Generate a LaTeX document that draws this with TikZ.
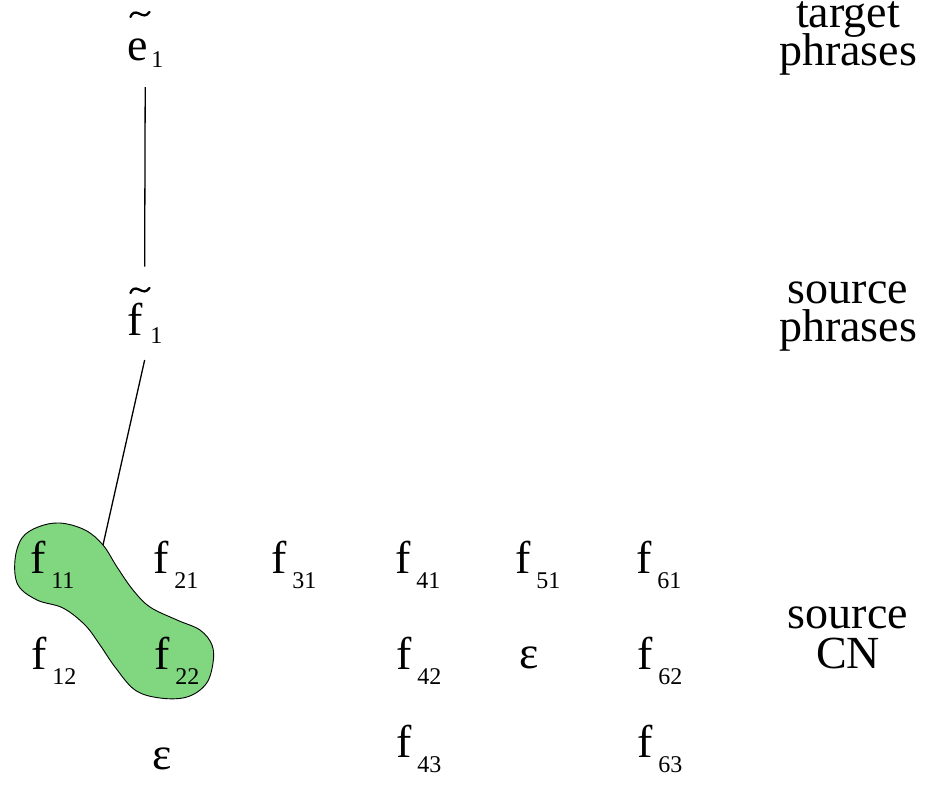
\documentclass[tikz,border=0pt]{standalone}
\usepackage{fontspec}
\setmainfont{Liberation Serif}
\newfontfamily\timesfont{Liberation Serif}
\definecolor{blobgreen}{RGB}{128,215,128}
\newcommand{\subsz}[1]{{\fontsize{24}{24}\selectfont #1}}
\newcommand{\fsym}[1]{f\kern6pt\raisebox{-15pt}{\subsz{#1}}}
\begin{document}
\begin{tikzpicture}[x=1pt,y=-1pt,
  every node/.style={inner sep=0pt, outer sep=0pt},
  txt/.style={font=\timesfont\fontsize{46}{38}\selectfont, anchor=base west},
  lbl/.style={font=\timesfont\fontsize{46}{38}\selectfont, anchor=base},
  conn/.style={line width=1.3pt},
  tildestyle/.style={line width=2.3pt, line cap=round}]
\useasboundingbox (0,0) rectangle (932,788);
% green grouping blob
\draw[fill=blobgreen, line width=0.9pt] plot[smooth cycle, tension=0.6] coordinates {
 (15,560) (22,538) (38,527) (60,523) (85,530) (103,545) (117,567) (133,590)
 (150,607) (177,620) (200,630) (212,645) (213,663) (206,684) (187,697)
 (160,698) (135,690) (115,667) (100,645) (85,625) (63,608) (37,600) (18,585)};
\coordinate (blobtop) at (103,545);
% phrase nodes
\node[txt] (e1) at (127,60) {e\kern4pt\raisebox{-7pt}{\subsz{1}}};
\node[txt] (f1) at (127,335) {f\kern8pt\raisebox{-8pt}{\subsz{1}}};
\draw[tildestyle] (130.5,17) .. controls (132,12.5) and (135,11.5) .. (139,13.5) .. controls (143,15.5) and (146,17) .. (149.5,12);
\draw[tildestyle] (130.5,293) .. controls (132,288.5) and (135,287.5) .. (139,289.5) .. controls (143,291.5) and (146,293) .. (149.5,288);
% connectors
\draw[conn] ([yshift=-20pt]e1.south) -- ([yshift=36pt]f1.north);
\draw[conn] ([yshift=-17pt]f1.south) -- (blobtop);
% confusion network
\node[txt] (f11) at (30,573) {\fsym{11}};
\node[txt] (f21) at (153,573) {\fsym{21}};
\node[txt] (f31) at (271,573) {\fsym{31}};
\node[txt] (f41) at (395,573) {\fsym{41}};
\node[txt] (f51) at (515,573) {\fsym{51}};
\node[txt] (f61) at (636,573) {\fsym{61}};
\node[txt] (f12) at (31,669) {\fsym{12}};
\node[txt] (f22) at (154,669) {\fsym{22}};
\node[txt] (f42) at (396,669) {\fsym{42}};
\node[txt] (eps52) at (519,668) {ε};
\node[txt] (f62) at (637,669) {\fsym{62}};
\node[txt] (eps23) at (152,769) {ε};
\node[txt] (f43) at (396,757) {\fsym{43}};
\node[txt] (f63) at (637,757) {\fsym{63}};
% right labels
\node[lbl] (tgt1) at (848,27) {target};
\node[lbl] (tgt2) at (848,65) {phrases};
\node[lbl] (src1) at (848,303) {source};
\node[lbl] (src2) at (848,341) {phrases};
\node[lbl] (cn1) at (848,628) {source};
\node[lbl] (cn2) at (848,668) {CN};
\end{tikzpicture}
\end{document}
